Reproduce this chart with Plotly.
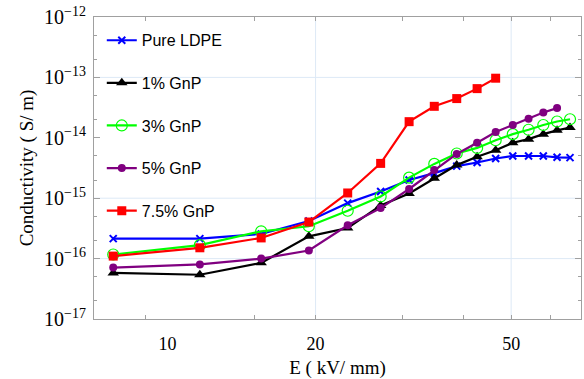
import plotly.graph_objects as go

# ---- data ----
E = [7.75, 11.63, 15.5, 19.38, 23.25, 27.13, 31.0, 34.88, 38.75, 42.63,
     46.5, 50.38, 54.25, 58.13, 62.0, 65.88]
pure_ldpe = [2.14e-16, 2.14e-16, 2.56e-16, 4.2e-16, 8.3e-16, 1.29e-15, 2.0e-15,
             2.6e-15, 3.4e-15, 3.9e-15, 4.55e-15, 5.0e-15, 5.0e-15, 5.0e-15,
             4.75e-15, 4.7e-15]
gnp_1 = [5.8e-17, 5.4e-17, 8.5e-17, 2.34e-16, 3.2e-16, 7.6e-16, 1.2e-15,
         2.13e-15, 3.53e-15, 4.85e-15, 6.2e-15, 8.3e-15, 9.5e-15, 1.15e-14,
         1.33e-14, 1.48e-14]
gnp_3 = [1.17e-16, 1.67e-16, 2.83e-16, 3.43e-16, 6.2e-16, 1.07e-15, 2.19e-15,
         3.7e-15, 5.5e-15, 6.8e-15, 9.1e-15, 1.15e-14, 1.36e-14, 1.63e-14,
         1.86e-14, 2.03e-14]
gnp_5 = [7.1e-17, 8.0e-17, 1.0e-16, 1.36e-16, 3.56e-16, 6.85e-16, 1.42e-15,
         2.92e-15, 5.4e-15, 8.3e-15, 1.25e-14, 1.63e-14, 2.07e-14, 2.63e-14,
         3.1e-14]
gnp_75 = [1.10e-16, 1.51e-16, 2.2e-16, 4.03e-16, 1.22e-15, 3.77e-15, 1.85e-14,
          3.32e-14, 4.46e-14, 6.52e-14, 9.7e-14]

series_names = ["Pure LDPE", "1% GnP", "3% GnP", "5% GnP", "7.5% GnP"]

x_tick_vals = [10, 20, 50]
x_tick_text = ["10", "20", "50"]
x_minor_ticks = [9, 15, 20, 30, 40, 50, 60]
x_grid = [20, 50]

y_tick_vals = [1e-17, 1e-16, 1e-15, 1e-14, 1e-13, 1e-12]
y_tick_text = ["10<sup>\u221217</sup>", "10<sup>\u221216</sup>", "10<sup>\u221215</sup>",
               "10<sup>\u221214</sup>", "10<sup>\u221213</sup>", "10<sup>\u221212</sup>"]
y_minor_ticks = [m * 10.0 ** e for e in range(-17, -12) for m in (2, 5)]
y_grid = [1e-16, 1e-15, 1e-13]

# ---- figure ----
fig = go.Figure()

styles = [
    dict(color="#0000ff", symbol="x-thin", size=7, mlw=2, mcolor="#0000ff", fill="#0000ff"),
    dict(color="#000000", symbol="triangle-up", size=10, mlw=0, mcolor="#000000", fill="#000000"),
    dict(color="#00ff00", symbol="circle-open", size=11, mlw=1.2, mcolor="#00ff00", fill="#00ff00"),
    dict(color="#800080", symbol="circle", size=8, mlw=0, mcolor="#800080", fill="#800080"),
    dict(color="#ff0000", symbol="square", size=9, mlw=0, mcolor="#ff0000", fill="#ff0000"),
]
data = [pure_ldpe, gnp_1, gnp_3, gnp_5, gnp_75]

for i, (name, y, st) in enumerate(zip(series_names, data, styles)):
    fig.add_trace(go.Scatter(
        x=E[:len(y)], y=y, name=name, mode="lines+markers",
        legendgroup=f"g{i}",
        line=dict(color=st["color"], width=2.2),
        marker=dict(symbol=st["symbol"], size=st["size"], color=st["fill"],
                    line=dict(width=st["mlw"], color=st["mcolor"])),
    ))

grid_color = "#dde9f6"
shapes = []
for gx in x_grid:
    shapes.append(dict(type="line", xref="x", yref="y domain", x0=gx, x1=gx, y0=0, y1=1,
                       line=dict(color=grid_color, width=1), layer="below"))
for gy in y_grid:
    shapes.append(dict(type="line", xref="x domain", yref="y", x0=0, x1=1, y0=gy, y1=gy,
                       line=dict(color=grid_color, width=1), layer="below"))

axis_color = "#a0a0a0"
fig.update_layout(
    width=584, height=379,
    margin=dict(l=94, r=2, t=17, b=57),
    paper_bgcolor="white", plot_bgcolor="white",
    shapes=shapes,
    showlegend=True,
    legend=dict(x=0.016, y=0.979, xanchor="left", yanchor="top",
                bgcolor="rgba(0,0,0,0)", traceorder="grouped", tracegroupgap=18.8,
                font=dict(family="Liberation Sans", size=16, color="black"),
                itemwidth=30),
    xaxis=dict(
        type="log", range=[0.8502, 1.8411],
        tickmode="array", tickvals=x_tick_vals, ticktext=x_tick_text,
        ticks="", showgrid=False, zeroline=False,
        showline=True, linecolor=axis_color, linewidth=1, mirror="allticks",
        tickfont=dict(family="Liberation Serif", size=18, color="black"),
        ticklabelstandoff=8,
        minor=dict(tickmode="array", tickvals=x_minor_ticks, ticks="inside",
                   ticklen=4, tickcolor=axis_color, showgrid=False),
        title=dict(text="E ( kV/ mm)", font=dict(family="Liberation Serif", size=19, color="black"),
                   standoff=10),
    ),
    yaxis=dict(
        type="log", range=[-17, -12],
        tickmode="array", tickvals=y_tick_vals, ticktext=y_tick_text,
        ticks="inside", ticklen=6, tickcolor=axis_color,
        showgrid=False, zeroline=False,
        showline=True, linecolor=axis_color, linewidth=1, mirror="allticks",
        tickfont=dict(family="Liberation Serif", size=20, color="black"),
        ticklabelstandoff=3,
        minor=dict(tickmode="array", tickvals=y_minor_ticks, ticks="inside",
                   ticklen=3, tickcolor=axis_color, showgrid=False),
        title=dict(text="Conductivity ( S/ m)", font=dict(family="Liberation Serif", size=19, color="black"),
                   standoff=5),
    ),
)

fig.write_html("out.html")
